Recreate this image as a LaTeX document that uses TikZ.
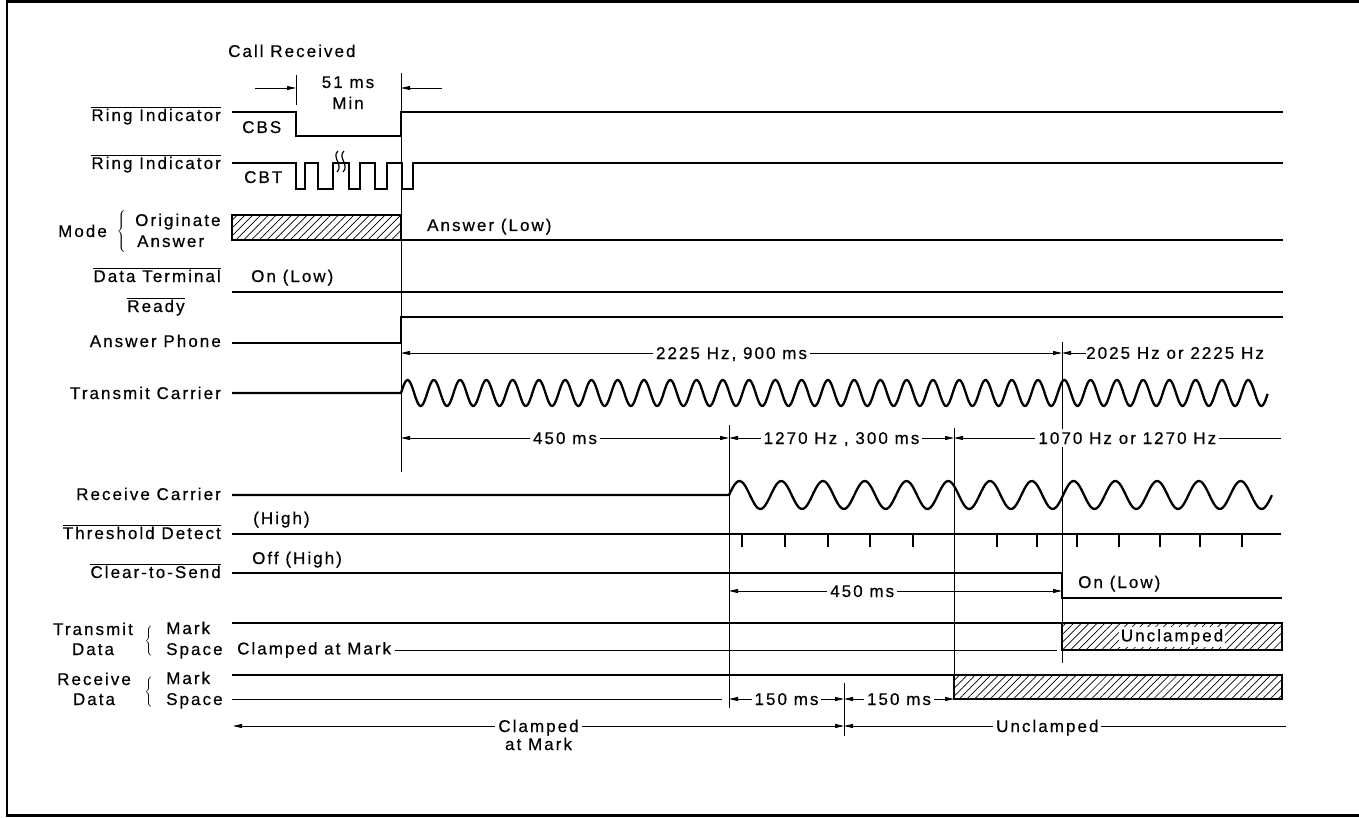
\documentclass[tikz,border=0pt]{standalone}
\usepackage{fontspec}
\setmainfont{Liberation Sans}[LetterSpace=12, FakeBold=0.5]
\usetikzlibrary{positioning, arrows.meta, patterns.meta}

\newcommand{\ovl}[1]{$\overline{\hbox{#1}}$}
\newcommand{\sigbrace}[1]{$\left\{\vrule height #1 depth #1 width 0pt\right.$}

\begin{document}
\begin{tikzpicture}[x=1pt, y=-1pt,
  font=\fontsize{17pt}{19pt}\selectfont,
  sig/.style={line width=2.3pt},
  guide/.style={line width=0.8pt},
  dimline/.style={line width=0.8pt, {Triangle[length=9pt,width=4pt]}-{Triangle[length=9pt,width=4pt]}},
  arr/.style={line width=0.8pt, -{Triangle[length=9pt,width=4pt]}},
  rarr/.style={line width=0.8pt, {Triangle[length=9pt,width=4pt]}-},
  signame/.style={anchor=base east, inner sep=0pt},
  txt/.style={anchor=base west, inner sep=0pt},
  cut/.style={fill=white, inner sep=3pt, text height=12pt, text depth=0pt},
  brc/.style={anchor=east, inner sep=0pt, outer sep=0pt},
  hatch/.style={sig, pattern={Lines[angle=45, distance=5.5pt, line width=0.7pt]}}
]
\useasboundingbox (0,0) rectangle (1359,818);
\draw[line width=2.5pt] (1359,1.5) -- (7,1.5) -- (7,815.5) -- (1359,815.5);

% guide lines
\draw[guide] (296,75) -- (296,105);
\draw[guide] (401,73) -- (401,472);
\draw[guide] (729,425) -- (729,708);
\draw[guide] (954,428) -- (954,675);
\draw[guide] (1062,342) -- (1062,663);
\draw[guide] (844,683) -- (844,736);

% call received
\node[txt] (call) at (228,57) {Call Received};
\draw[arr] (255,88) -- (296,88);
\draw[arr] (442,88) -- (401,88);
\node[anchor=base, inner sep=0pt] (min51) at (348,88) {51 ms};
\node[anchor=base, inner sep=0pt] (minb) at (348,109) {Min};

% ring indicator CBS
\node[signame] (ri1) at (221,121) {\ovl{Ring Indicator}};
\node[txt] (cbs) at (242,133) {CBS};
\draw[sig] (232,112) -- (296,112) -- (296,136) -- (401,136) -- (401,112) -- (1283,112);

% ring indicator CBT
\node[signame] (ri2) at (221,169) {\ovl{Ring Indicator}};
\node[txt] (cbt) at (244,183) {CBT};
\draw[sig] (232,163) -| (296,189) -| (305,163) -| (318,189) -| (333,163) -| (349,189)
  -| (360,163) -| (375,189) -| (387,163) -| (402,189) -| (413,163) -- (1283,163);
\draw[line width=1.2pt] (338,151) .. controls (331,157) and (344,165) .. (337,172);
\draw[line width=1.2pt] (344,151) .. controls (337,157) and (350,165) .. (343,172);

% mode
\node[signame] (mode) at (107,237) {Mode};
\node[brc] (mbr) at (127,232) {\sigbrace{16pt}};
\node[txt] (orig) at (135,226) {Originate};
\node[txt] (ans) at (137,247) {Answer};
\draw[hatch] (232,215) rectangle (401,240);
\draw[sig] (401,240) -- (1283,240);
\node[txt] (anslow) at (427,231) {Answer (Low)};

% data terminal ready
\node[signame] (dtr) at (221,282) {\ovl{Data Terminal}};
\node[anchor=base, inner sep=0pt] (rdy) at (156,312) {\ovl{Ready}};
\node[txt] (onlow) at (251,282) {On (Low)};
\draw[sig] (232,292) -- (1283,292);

% answer phone
\node[signame] (aph) at (221,347) {Answer Phone};
\draw[sig] (232,343) -- (401,343) -- (401,317) -- (1283,317);

\draw[dimline] (401,353) -- node[cut] (f1) {2225 Hz, 900 ms} (1062,353);
\node[anchor=west, inner sep=0pt] (f2) at (1086,353) {2025 Hz or 2225 Hz};
\draw[arr] (f2.west) -- (1062,353);

% transmit carrier
\node[signame] (txc) at (221,399) {Transmit Carrier};
\draw[sig] (232,393) -- (401,393)
  -- plot[domain=0:33, samples=700] ({401+26.27*\x}, {393-13*sin(360*\x)});

\draw[dimline] (401,438) -- node[cut] (d1) {450 ms} (729,438);
\draw[dimline] (729,438) -- node[cut] (d2) {1270 Hz , 300 ms} (954,438);
\draw[rarr] (954,438) -- node[cut, pos=.53] (d3) {1070 Hz or 1270 Hz} (1281,438);

% receive carrier
\node[signame] (rxc) at (221,500) {Receive Carrier};
\draw[sig] (232,495) -- (729,495)
  -- plot[domain=0:13, samples=300] ({729+41.77*\x}, {495-14*sin(360*\x)});

% threshold detect
\node[signame] (thd) at (221,539) {\ovl{Threshold Detect}};
\node[txt] (high1) at (253,524) {(High)};
\draw[sig] (232,534) -- (1281,534);
\foreach \t in {742,785,828,870,913,997,1037,1077,1119,1160,1200,1242}
  \draw[line width=1.2pt] (\t,534) -- (\t,547);

% clear to send
\node[signame] (cts) at (221,578) {\ovl{Clear-to-Send}};
\node[txt] (offhigh) at (252,564) {Off (High)};
\draw[sig] (232,573) -- (1062,573) -- (1062,598) -- (1282,598);
\node[txt] (onlow2) at (1078,588) {On (Low)};
\draw[dimline] (729,591) -- node[cut, pos=.4] (d4) {450 ms} (1062,591);

% transmit data
\node[anchor=base, inner sep=0pt] (txd1) at (93,635) {Transmit};
\node[anchor=base, inner sep=0pt] (txd2) at (93,655) {Data};
\node[brc] (tbr) at (154,641) {\sigbrace{11pt}};
\node[txt] (tmk) at (166,634) {Mark};
\node[txt] (tsp) at (166,655) {Space};
\draw[sig] (232,623) -- (1062,623);
\node[anchor=west, inner sep=0pt] (clmk) at (237,650) {Clamped at Mark};
\draw[guide] ([xshift=4pt]clmk.east) -- (1057,650);
\draw[hatch] (1062,623) rectangle (1282,650);
\node[fill=white, inner sep=2pt] (uncl1) at (1172,637) {Unclamped};

% receive data
\node[anchor=base, inner sep=0pt] (rxd1) at (94,685) {Receive};
\node[anchor=base, inner sep=0pt] (rxd2) at (94,705) {Data};
\node[brc] (rbr) at (154,692) {\sigbrace{11pt}};
\node[txt] (rmk) at (166,684) {Mark};
\node[txt] (rsp) at (166,705) {Space};
\draw[sig] (232,675) -- (1282,675);
\draw[guide] (232,699) -- (722,699);
\draw[hatch] (954,675) rectangle (1282,699);

\draw[dimline] (729,699) -- node[cut] (d5) {150 ms} (844,699);
\draw[dimline] (844,699) -- node[cut] (d6) {150 ms} (954,699);

\draw[dimline] (233,726) -- node[cut] (clp) {Clamped} (844,726);
\node[anchor=base, inner sep=0pt] (clp2) at (clp.center |- 0,750) {at Mark};
\draw[rarr] (844,726) -- node[cut, pos=.46] (uncl2) {Unclamped} (1286,726);
\end{tikzpicture}
\end{document}
